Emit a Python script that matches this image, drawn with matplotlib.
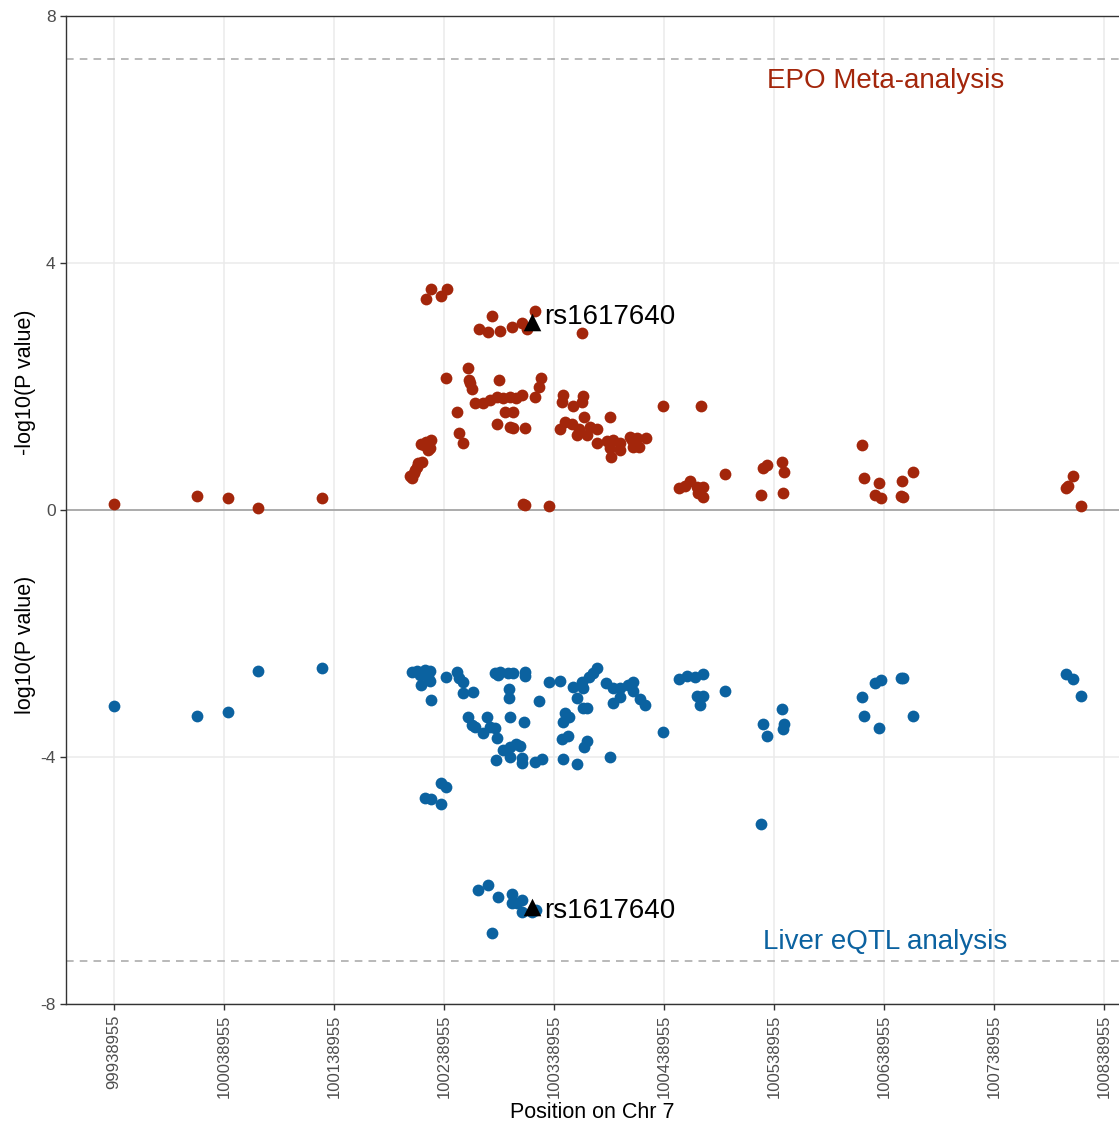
import numpy as np
import matplotlib
matplotlib.use("Agg")
import matplotlib.pyplot as plt

plt.rcParams['font.family'] = ['Liberation Sans', 'DejaVu Sans']

# EPO meta-analysis: position (kb) and -log10(P)
epo_pos_kb = [99939, 100014, 100043, 100070, 100128,
              100208, 100210, 100212, 100213, 100214, 100215, 100218, 100219, 100221, 100223,
              100224, 100226, 100227,
              100223, 100227, 100236, 100242,
              100241, 100251, 100253, 100256, 100261, 100262, 100263, 100264, 100267, 100274,
              100281, 100287, 100293, 100299, 100304, 100310, 100294, 100302, 100287, 100299,
              100302, 100313, 100289, 100327, 100325, 100322,
              100283, 100271, 100279, 100290, 100301, 100310, 100314, 100322, 100364,
              100311, 100313, 100334,
              100347, 100365, 100364, 100346, 100356, 100390, 100366, 100349, 100355, 100344,
              100362, 100372, 100378, 100360, 100369, 100378, 100387, 100393, 100399, 100408,
              100414, 100423, 100390, 100399, 100411, 100391, 100416, 100410,
              100438, 100473,
              100453, 100458, 100463, 100469, 100474, 100470, 100474, 100494,
              100529, 100533, 100546, 100548, 100527, 100547,
              100619, 100621, 100634, 100631, 100636, 100655, 100656, 100665, 100654,
              100804, 100806, 100811, 100818]
epo_logp = [0.10, 0.23, 0.19, 0.03, 0.19,
            0.55, 0.52, 0.60, 0.65, 0.70, 0.76, 1.07, 0.78, 1.05, 1.10,
            0.97, 1.00, 1.13,
            3.42, 3.58, 3.47, 3.58,
            2.14, 1.59, 1.25, 1.09, 2.30, 2.11, 2.05, 1.96, 1.73, 1.73,
            1.78, 1.83, 1.81, 1.83, 1.81, 1.86, 1.59, 1.59, 1.39, 1.34,
            1.33, 1.33, 2.11, 2.14, 1.99, 1.83,
            3.14, 2.93, 2.88, 2.90, 2.96, 3.03, 2.93, 3.22, 2.87,
            0.10, 0.08, 0.06,
            1.86, 1.85, 1.75, 1.75, 1.68, 1.51, 1.51, 1.43, 1.39, 1.31,
            1.31, 1.34, 1.31, 1.21, 1.21, 1.09, 1.12, 1.13, 1.09, 1.18,
            1.17, 1.17, 1.00, 0.97, 1.02, 0.86, 1.02, 1.13,
            1.68, 1.68,
            0.36, 0.39, 0.47, 0.37, 0.37, 0.28, 0.21, 0.58,
            0.68, 0.73, 0.78, 0.62, 0.24, 0.28,
            1.05, 0.52, 0.44, 0.24, 0.19, 0.47, 0.21, 0.62, 0.22,
            0.36, 0.39, 0.55, 0.06]

# Liver eQTL: position (kb) and log10(P)
eqtl_pos_kb = [99939, 100014, 100043, 100070, 100128,
               100210, 100214, 100222, 100226, 100217, 100224, 100226, 100218, 100227, 100241,
               100251, 100253, 100256, 100256, 100265,
               100285, 100290, 100288, 100297, 100302, 100313, 100313, 100298, 100298, 100325,
               100334, 100344,
               100356, 100364, 100365, 100371, 100378, 100374, 100360, 100365, 100349, 100353,
               100347, 100369,
               100386, 100393, 100399, 100406, 100411, 100393, 100399, 100411, 100417, 100422,
               100261, 100264, 100267, 100278, 100274, 100281, 100285, 100287, 100299, 100312,
               100293, 100299, 100304, 100308, 100299, 100286, 100310, 100310, 100322, 100328,
               100347, 100360, 100346, 100352, 100366, 100369, 100390,
               100438,
               100453, 100460, 100467, 100474, 100469, 100474, 100472, 100494,
               100529, 100533, 100546, 100548, 100547,
               100619, 100621, 100634, 100631, 100636, 100654, 100656, 100665,
               100527,
               100804, 100811, 100818,
               100236, 100241, 100222, 100227, 100236,
               100270, 100279, 100288, 100301, 100301, 100310, 100310, 100319, 100323, 100283,
               100305]
eqtl_logp = [-3.17, -3.34, -3.27, -2.61, -2.56,
             -2.62, -2.61, -2.59, -2.61, -2.67, -2.70, -2.77, -2.83, -3.08, -2.70,
             -2.62, -2.72, -2.79, -2.96, -2.95,
             -2.64, -2.62, -2.67, -2.64, -2.64, -2.62, -2.69, -2.90, -3.04, -3.09,
             -2.79, -2.77,
             -2.87, -2.79, -2.88, -2.70, -2.56, -2.64, -3.04, -3.21, -3.29, -3.35,
             -3.43, -3.21,
             -2.80, -2.88, -2.88, -2.83, -2.79, -3.13, -3.03, -2.93, -3.06, -3.16,
             -3.35, -3.48, -3.51, -3.35, -3.61, -3.51, -3.53, -3.69, -3.35, -3.43,
             -3.89, -3.84, -3.79, -3.82, -4.00, -4.05, -4.02, -4.10, -4.08, -4.03,
             -4.03, -4.11, -3.71, -3.66, -3.84, -3.74, -4.00,
             -3.60,
             -2.74, -2.69, -2.70, -2.66, -3.01, -3.01, -3.16, -2.93,
             -3.47, -3.66, -3.22, -3.47, -3.55,
             -3.03, -3.34, -3.53, -2.80, -2.75, -2.72, -2.72, -3.34,
             -5.09,
             -2.66, -2.74, -3.01,
             -4.42, -4.49, -4.66, -4.68, -4.76,
             -6.15, -6.07, -6.27, -6.22, -6.36, -6.32, -6.51, -6.51, -6.48, -6.85,
             -6.36]

lead_snp = "rs1617640"
lead_pos = 100318600
lead_epo = 3.04
lead_eqtl = -6.43

gw_threshold = -np.log10(5e-8)
xticks = [99938955 + 100000 * k for k in range(10)]
yticks = [-8, -4, 0, 4, 8]

red = '#A3260B'
blue = '#0B62A0'
grid_col = '#EBEBEB'
tick_col = '#4D4D4D'

fig = plt.figure(figsize=(11.19, 11.27), dpi=100)
ax = fig.add_axes([66 / 1119, 1 - 1004 / 1127, 1 - 66 / 1119, (1004 - 16) / 1127])

ax.set_xlim(99895319, 100852591)
ax.set_ylim(-8, 8)
ax.set_xticks(xticks)
ax.set_xticklabels([str(t) for t in xticks], rotation=90)
ax.set_yticks(yticks)
ax.set_yticklabels([str(t) for t in yticks])
ax.grid(True, color=grid_col, linewidth=1.1, zorder=0)
ax.set_axisbelow(True)

for s in ['left', 'bottom', 'top']:
    ax.spines[s].set_color('#333333')
    ax.spines[s].set_linewidth(1.0)
ax.spines['right'].set_visible(False)
ax.tick_params(axis='x', labelsize=12)
ax.tick_params(axis='y', labelsize=12.5)
ax.tick_params(axis='both', colors='#333333', labelcolor=tick_col, length=4, width=1.0)

ax.axhline(0, color='#A6A6A6', linewidth=1.3, zorder=1)
ax.axhline(gw_threshold, color='#A6A6A6', linewidth=1.1, linestyle=(0, (5, 4)), zorder=1)
ax.axhline(-gw_threshold, color='#A6A6A6', linewidth=1.1, linestyle=(0, (5, 4)), zorder=1)

ax.scatter(np.array(epo_pos_kb) * 1000, epo_logp, s=72, color=red, linewidths=0, zorder=3)
ax.scatter(np.array(eqtl_pos_kb) * 1000, eqtl_logp, s=72, color=blue, linewidths=0, zorder=3)

ax.scatter([lead_pos, lead_pos], [lead_epo, lead_eqtl], marker='^', s=160,
           color='black', linewidths=0, zorder=4)
ax.annotate(lead_snp, (lead_pos, lead_epo), xytext=(9, 4), textcoords='offset points',
            va='center', ha='left', fontsize=20, color='black', zorder=5)
ax.annotate(lead_snp, (lead_pos, lead_eqtl), xytext=(9, -3), textcoords='offset points',
            va='center', ha='left', fontsize=20, color='black', zorder=5)

ax.text(100640000, 6.95, 'EPO Meta-analysis', color=red, fontsize=20, ha='center', va='center')
ax.text(100640000, -7.0, 'Liver eQTL analysis', color=blue, fontsize=20, ha='center', va='center')

ax.set_xlabel('Position on Chr 7', fontsize=15.5, labelpad=3)
fig.text(26 / 1119, 1 - 382 / 1127, '-log10(P value)', rotation=90, fontsize=15.5,
         ha='center', va='center')
fig.text(26 / 1119, 1 - 645 / 1127, 'log10(P value)', rotation=90, fontsize=15.5,
         ha='center', va='center')

fig.savefig('out.png', dpi=100)
